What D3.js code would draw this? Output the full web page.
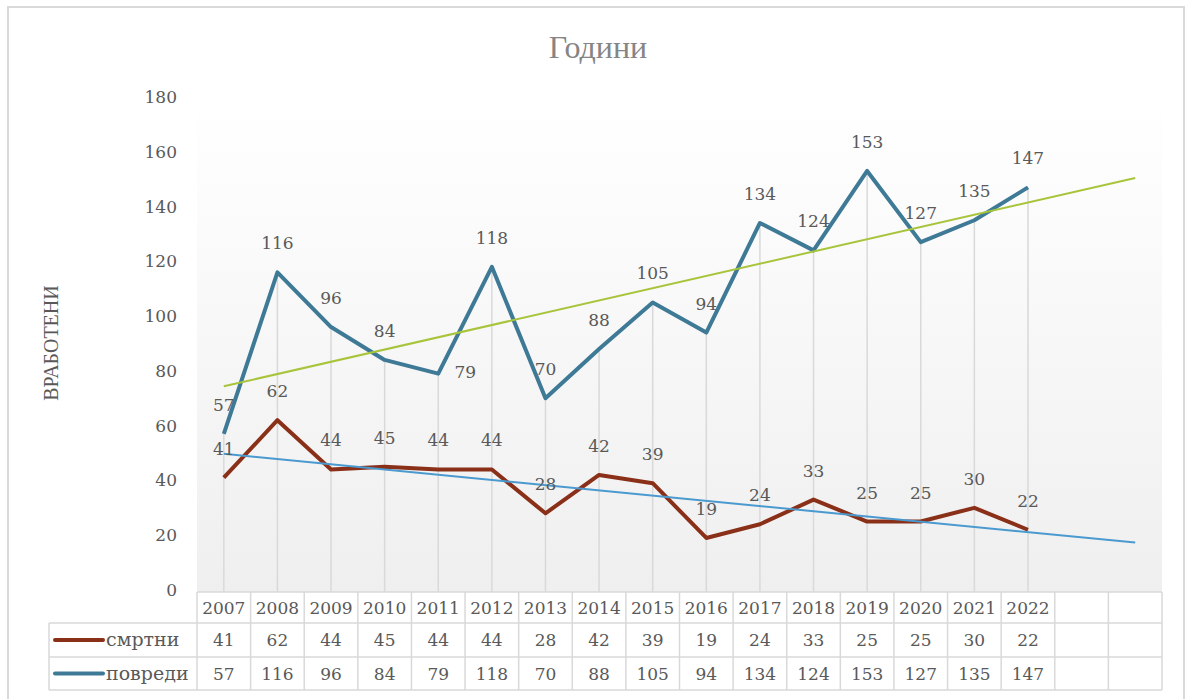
<!DOCTYPE html>
<html>
<head>
<meta charset="utf-8">
<script src="https://cdn.jsdelivr.net/npm/d3@7"></script>
<style>
  body { margin: 0; background: #fff; }
  svg { display: block; }
</style>
</head>
<body>
<div id="container"></div>
<script>
var years = ["2007","2008","2009","2010","2011","2012","2013","2014","2015","2016","2017","2018","2019","2020","2021","2022"];
var blankCols = ["", " "];
var smrtni = [41, 62, 44, 45, 44, 44, 28, 42, 39, 19, 24, 33, 25, 25, 30, 22];
var povredi = [57, 116, 96, 84, 79, 118, 70, 88, 105, 94, 134, 124, 153, 127, 135, 147];
var yTicks = [0, 20, 40, 60, 80, 100, 120, 140, 160, 180];
var seriesNames = ["смртни", "повреди"];
var title = "Години";
var yTitle = "ВРАБОТЕНИ";

const width = 1187;
const height = 699;
const numFont = "'DejaVu Serif', serif";
const txtFont = "'Liberation Serif', serif";
const grey = "#595959";
const gridCol = "#d9d9d9";

var colors = {"смртни": "#8a3018", "повреди": "#3e7a96"};
var trendColors = {"смртни": "#4a9ad0", "повреди": "#a8c43a"};

var plot = {left: 197, right: 1162, top: 97, bottom: 590};
var rows = [592, 623, 657, 690];
var legendLeft = 49;

// linear trend (least squares) of a series, evaluated at index i
function trend(vals) {
  var mx = d3.mean(vals, (d, i) => i);
  var my = d3.mean(vals);
  var sxy = d3.sum(vals, (d, i) => (i - mx) * (d - my));
  var sxx = d3.sum(vals, (d, i) => (i - mx) * (i - mx));
  var b = sxy / sxx;
  return i => my + b * (i - mx);
}

const svg = d3.select("#container")
  .append("svg")
    .attr("width", width)
    .attr("height", height);

// outer frame
svg.append("rect")
  .attr("x", 8).attr("y", 7)
  .attr("width", 1176).attr("height", 710)
  .attr("fill", "#fff")
  .attr("stroke", gridCol)
  .attr("stroke-width", 2);

var cats = years.concat(blankCols);
const x = d3.scaleBand()
  .domain(cats)
  .range([plot.left, plot.right])
  .padding(0);
const cx = d => x(d) + x.bandwidth() / 2;

const y = d3.scaleLinear()
  .domain([0, 180])
  .range([plot.bottom, plot.top]);

// plot area gradient
var grad = svg.append("defs").append("linearGradient")
  .attr("id", "bg").attr("x1", 0).attr("y1", 0).attr("x2", 0).attr("y2", 1);
grad.append("stop").attr("offset", "0%").attr("stop-color", "#ffffff");
grad.append("stop").attr("offset", "100%").attr("stop-color", "#efefef");

svg.append("rect")
  .attr("x", plot.left).attr("y", plot.top)
  .attr("width", plot.right - plot.left)
  .attr("height", plot.bottom - plot.top + 2)
  .attr("fill", "url(#bg)");

// title
svg.append("text")
  .attr("x", 598).attr("y", 58)
  .attr("text-anchor", "middle")
  .attr("font-family", txtFont)
  .attr("font-size", 32)
  .attr("fill", "#858585")
  .text(title);

// y axis title
svg.append("text")
  .attr("transform", "translate(58,343)rotate(-90)")
  .attr("text-anchor", "middle")
  .attr("font-family", txtFont)
  .attr("font-size", 20)
  .attr("fill", grey)
  .text(yTitle);

// y axis (labels only)
const yAxis = svg.append("g")
  .attr("transform", "translate(" + (plot.left - 20) + ",0)")
  .call(d3.axisLeft(y).tickValues(yTicks).tickSize(0).tickPadding(0));
yAxis.select(".domain").remove();
yAxis.selectAll("text")
  .attr("font-family", numFont)
  .attr("font-size", 17)
  .attr("fill", grey);

// drop lines
svg.append("g")
  .selectAll("line")
  .data(years)
  .join("line")
    .attr("x1", d => cx(d)).attr("x2", d => cx(d))
    .attr("y1", (d, i) => y(Math.max(smrtni[i], povredi[i])))
    .attr("y2", plot.bottom + 2)
    .attr("stroke", gridCol)
    .attr("stroke-width", 1.5);

var series = [
  {name: "смртни", values: smrtni},
  {name: "повреди", values: povredi}
];

const line = d3.line()
  .x((d, i) => cx(years[i]))
  .y(d => y(d));

// series lines
series.forEach(s => {
  svg.append("path")
    .datum(s.values)
    .attr("fill", "none")
    .attr("stroke", colors[s.name])
    .attr("stroke-width", 4)
    .attr("stroke-linejoin", "round")
    .attr("d", line);
});

// trend lines, drawn over all categories
series.forEach(s => {
  var t = trend(s.values);
  svg.append("line")
    .attr("x1", cx(cats[0])).attr("y1", y(t(0)))
    .attr("x2", cx(cats[cats.length - 1])).attr("y2", y(t(cats.length - 1)))
    .attr("stroke", trendColors[s.name])
    .attr("stroke-width", 2);
});

// data labels (the 2011 injury label sits right of its point)
series.forEach(s => {
  svg.append("g")
    .selectAll("text")
    .data(s.values)
    .join("text")
      .attr("x", (d, i) => (s.name == "повреди" && i == 4) ? cx(years[i]) + 27 : cx(years[i]))
      .attr("y", (d, i) => (s.name == "повреди" && i == 4) ? y(d) + 4 : y(d) - 23)
      .attr("text-anchor", "middle")
      .attr("font-family", numFont)
      .attr("font-size", 17)
      .attr("fill", grey)
      .text(d => d);
});

// data table
const table = svg.append("g")
  .attr("stroke", gridCol)
  .attr("stroke-width", 1.5);

table.append("line")
  .attr("x1", plot.left).attr("x2", plot.right)
  .attr("y1", rows[0]).attr("y2", rows[0]);
rows.slice(1).forEach(r => {
  table.append("line")
    .attr("x1", legendLeft).attr("x2", plot.right)
    .attr("y1", r).attr("y2", r);
});
cats.forEach(c => {
  table.append("line")
    .attr("x1", x(c)).attr("x2", x(c))
    .attr("y1", rows[0]).attr("y2", rows[3]);
});
table.append("line")
  .attr("x1", plot.right).attr("x2", plot.right)
  .attr("y1", rows[0]).attr("y2", rows[3]);
table.append("line")
  .attr("x1", legendLeft).attr("x2", legendLeft)
  .attr("y1", rows[1]).attr("y2", rows[3]);

// year row
svg.append("g")
  .selectAll("text")
  .data(years)
  .join("text")
    .attr("x", d => cx(d))
    .attr("y", (rows[0] + rows[1]) / 2 + 6)
    .attr("text-anchor", "middle")
    .attr("font-family", numFont)
    .attr("font-size", 17)
    .attr("fill", grey)
    .text(d => d);

// value rows + legend
series.forEach((s, k) => {
  var mid = (rows[k + 1] + rows[k + 2]) / 2;
  svg.append("line")
    .attr("x1", 55).attr("x2", 103)
    .attr("y1", mid).attr("y2", mid)
    .attr("stroke", colors[s.name])
    .attr("stroke-width", 4)
    .attr("stroke-linecap", "round");
  svg.append("text")
    .attr("x", 106).attr("y", mid + 6)
    .attr("font-family", numFont)
    .attr("font-size", 19)
    .attr("fill", grey)
    .text(s.name);
  svg.append("g")
    .selectAll("text")
    .data(s.values)
    .join("text")
      .attr("x", (d, i) => cx(years[i]))
      .attr("y", mid + 6)
      .attr("text-anchor", "middle")
      .attr("font-family", numFont)
      .attr("font-size", 17)
      .attr("fill", grey)
      .text(d => d);
});
</script>
</body>
</html>
